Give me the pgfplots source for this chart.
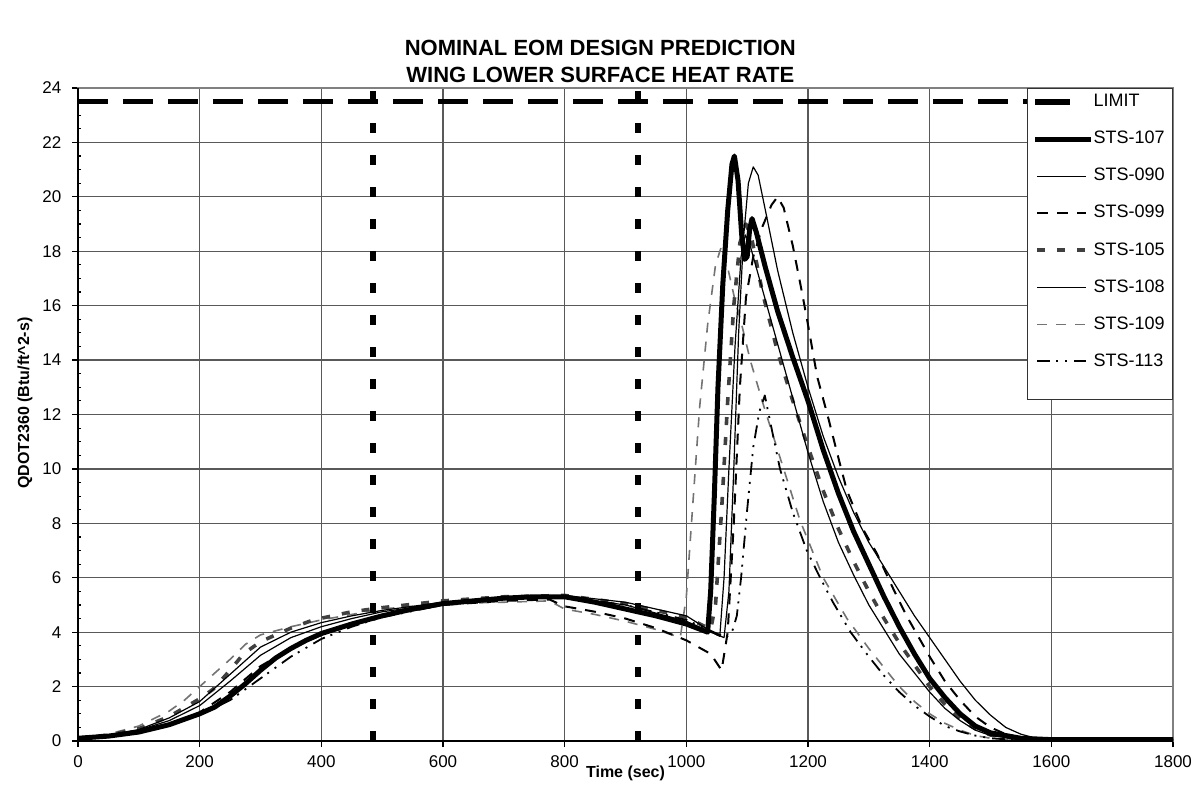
\documentclass[border=0pt]{standalone}
\usepackage{fontspec}
\setmainfont{Liberation Sans}
\usepackage{pgfplots}
\pgfplotsset{compat=1.18}
\usetikzlibrary{calc}
\definecolor{g105}{RGB}{64,64,64}
\definecolor{g109}{RGB}{115,115,115}
\begin{document}
\begin{tikzpicture}
\begin{axis}[
  name=ax,
  scale only axis, width=547.5bp, height=326.5bp,
  xmin=0, xmax=1800, ymin=0, ymax=24,
  xtick={0,200,...,1800}, ytick={0,2,...,24},
  minor y tick num=3,
  grid=major, major grid style={black!65, line width=0.6bp},
  axis line style={black!50, line width=1bp},
  tick align=outside, major tick length=3bp, minor tick length=-1.5bp,
  tick style={black, line width=0.6bp},
  xtick pos=bottom, ytick pos=left,
  /pgf/number format/1000 sep={},
  /pgf/number format/assume math mode=true,
  ticklabel style={font=\fontsize{8.5bp}{10bp}\selectfont},
  yticklabel style={xshift=-1.8bp},
  xticklabel style={yshift=-0.8bp},
  xlabel={Time (sec)},
  ylabel={QDOT2360 (Btu/ft\textasciicircum 2-s)},
  label style={font=\fontsize{8bp}{9.6bp}\selectfont\bfseries},
  xlabel style={at={(axis description cs:0.5,-0.049)}, anchor=center},
  ylabel style={at={(axis description cs:-0.0484,0.5176)}, anchor=center},
  legend cell align=left,
  legend style={at={(rel axis cs:1,1)}, anchor=north east, draw=black!80, fill=white,
    font=\fontsize{9bp}{10bp}\selectfont, row sep=7.75bp, inner xsep=2.5bp, inner ysep=1.5bp,
    nodes={inner sep=1.5bp},
    /tikz/every odd column/.append style={column sep=-1.5bp}},
  legend image code/.code={\path[draw=none,fill=none] (0bp,-0.5bp) rectangle (28bp,0.5bp); \draw[#1] (1bp,0bp) -- (25.5bp,0bp);},
  every axis plot/.append style={line join=round},
]
\addplot[black, line width=2.8bp, dash pattern=on 15bp off 7.5bp,
  legend image code/.code={\path[draw=none,fill=none] (0bp,-0.5bp) rectangle (28bp,0.5bp); \draw[black, solid, line width=2.8bp] (0bp,0bp) -- (17.5bp,0bp);}]
  coordinates {(0,23.5)(1800,23.5)};
\addlegendentry{LIMIT}

% STS-109 gray dashed
\addplot[g109, line width=0.8bp, dash pattern=on 5bp off 4.5bp, forget plot] coordinates {
(0,0.1)(50,0.25)(100,0.55)(150,1.1)(175,1.5)(200,2.0)(225,2.5)(250,3.0)(275,3.55)(300,3.9)(350,4.2)(400,4.45)(450,4.65)(500,4.85)(600,5.05)(700,5.1)(775,5.15)(800,4.85)(850,4.65)(900,4.4)(950,4.1)(990,3.8)(1000,5.3)(1010,8.5)(1022,12.3)(1035,15.3)(1048,17.5)(1058,18.2)(1068,17.4)(1080,16.2)(1090,15.4)(1105,14.0)(1126,12.4)(1150,10.7)(1187,8.1)(1225,6.0)(1264,4.5)(1300,3.4)(1325,2.7)(1350,2.0)(1375,1.45)(1400,1.0)(1425,0.65)(1450,0.4)(1475,0.2)(1500,0.1)(1550,0.03)(1800,0.03)};
% STS-105 thick gray dashed
\addplot[g105, line width=1.8bp, dash pattern=on 4bp off 6bp, forget plot] coordinates {
(0,0.1)(50,0.22)(100,0.45)(150,0.9)(200,1.55)(222,1.9)(250,2.6)(272,3.2)(300,3.65)(350,4.15)(387,4.45)(450,4.75)(500,4.9)(600,5.15)(700,5.3)(800,5.35)(900,5.05)(1000,4.55)(1040,4.1)(1048,5)(1058,8.5)(1068,12.5)(1078,16)(1088,18.3)(1098,19.0)(1108,18.4)(1125,16.5)(1150,14.3)(1175,12.5)(1200,10.8)(1225,9.2)(1250,7.8)(1275,6.6)(1300,5.5)(1325,4.5)(1350,3.6)(1375,2.8)(1400,2.0)(1425,1.35)(1450,0.8)(1475,0.45)(1500,0.22)(1550,0.06)(1600,0.03)(1800,0.03)};
% STS-108 thin
\addplot[black, line width=0.6bp, forget plot] coordinates {
(0,0.1)(50,0.22)(100,0.42)(150,0.85)(200,1.45)(250,2.45)(300,3.45)(350,4.0)(400,4.35)(450,4.6)(500,4.8)(600,5.1)(700,5.25)(800,5.35)(900,5.1)(1000,4.6)(1050,3.9)(1055,3.85)(1062,6)(1070,10)(1080,14.5)(1090,17.8)(1097,18.6)(1105,18.2)(1125,16.6)(1150,14.6)(1175,12.6)(1200,10.6)(1225,8.8)(1250,7.3)(1275,6.1)(1300,5.0)(1325,4.1)(1350,3.2)(1375,2.5)(1400,1.8)(1425,1.2)(1450,0.75)(1475,0.4)(1500,0.2)(1550,0.05)(1600,0.03)(1800,0.03)};
% STS-113 dash-dot
\addplot[black, line width=0.9bp, dash pattern=on 6.5bp off 3bp on 1bp off 3.5bp on 1bp off 3.5bp, forget plot] coordinates {
(0,0.1)(50,0.17)(100,0.33)(150,0.62)(200,0.95)(250,1.5)(300,2.3)(350,3.1)(400,3.75)(450,4.2)(500,4.55)(600,5.0)(700,5.2)(800,5.3)(900,5.0)(1000,4.45)(1050,3.95)(1065,3.8)(1075,4.0)(1083,4.6)(1090,6.0)(1100,8.5)(1110,10.8)(1120,12.1)(1129,12.7)(1140,11.5)(1154,10.0)(1175,8.4)(1198,7.0)(1220,6.0)(1241,5.1)(1270,4.0)(1300,3.1)(1325,2.4)(1350,1.8)(1375,1.3)(1400,0.9)(1425,0.55)(1450,0.35)(1475,0.2)(1500,0.1)(1550,0.03)(1800,0.03)};
% STS-099 dashed
\addplot[black, line width=1bp, dash pattern=on 5.5bp off 4.5bp, forget plot] coordinates {
(0,0.1)(50,0.17)(100,0.3)(150,0.6)(200,1.05)(250,1.8)(300,2.75)(350,3.4)(400,3.9)(450,4.3)(500,4.6)(600,5.0)(700,5.15)(775,5.2)(800,4.95)(850,4.75)(900,4.5)(950,4.15)(1000,3.7)(1040,3.2)(1058,2.6)(1068,4)(1078,8)(1088,13)(1098,16.3)(1110,17.8)(1125,18.9)(1140,19.7)(1150,20.0)(1160,19.6)(1175,18.2)(1190,16.5)(1200,15.3)(1215,13.4)(1233,11.9)(1250,10.4)(1264,9.2)(1290,7.8)(1313,6.9)(1340,5.6)(1362,4.6)(1400,3.1)(1425,2.2)(1450,1.5)(1475,0.9)(1500,0.5)(1525,0.25)(1550,0.1)(1600,0.05)(1800,0.05)};
% STS-090 thin
\addplot[black, line width=0.6bp, forget plot] coordinates {
(0,0.1)(50,0.2)(100,0.4)(150,0.75)(200,1.3)(250,2.2)(300,3.15)(350,3.8)(400,4.2)(450,4.5)(500,4.75)(600,5.05)(700,5.25)(800,5.3)(900,5.0)(1000,4.4)(1040,4.0)(1062,3.8)(1070,5.5)(1078,10)(1086,15)(1094,18.5)(1102,20.5)(1110,21.1)(1118,20.8)(1130,19.5)(1150,17.3)(1175,15.0)(1200,13.0)(1225,11.2)(1250,9.7)(1275,8.4)(1300,7.3)(1325,6.4)(1350,5.5)(1375,4.6)(1400,3.8)(1425,3.0)(1450,2.2)(1475,1.5)(1500,0.95)(1525,0.5)(1550,0.25)(1575,0.1)(1600,0.05)(1800,0.05)};
% STS-107 thick
\addplot[black, line width=2.5bp, forget plot] coordinates {
(0,0.1)(50,0.18)(100,0.33)(150,0.6)(200,1.0)(225,1.25)(250,1.65)(275,2.1)(300,2.6)(325,3.05)(350,3.4)(375,3.7)(400,3.95)(450,4.3)(500,4.6)(550,4.85)(600,5.05)(650,5.15)(700,5.25)(750,5.3)(800,5.3)(850,5.1)(900,4.85)(950,4.6)(1000,4.3)(1035,4.0)(1040,5.5)(1046,9)(1052,13)(1060,16.8)(1068,19.5)(1075,21.2)(1079,21.5)(1085,20.6)(1091,18.6)(1096,17.7)(1100,17.8)(1104,18.8)(1108,19.2)(1115,18.7)(1130,17.4)(1150,15.8)(1175,14.1)(1200,12.5)(1225,10.7)(1250,9.1)(1275,7.7)(1300,6.5)(1325,5.3)(1350,4.2)(1375,3.2)(1400,2.3)(1425,1.6)(1450,1.0)(1475,0.55)(1500,0.3)(1550,0.1)(1600,0.05)(1700,0.05)(1800,0.05)};
% vertical markers
\addplot[black, line width=3bp, dash pattern=on 5bp off 11bp, forget plot] coordinates {(485,0)(485,24)};
\addplot[black, line width=3bp, dash pattern=on 5bp off 11bp, forget plot] coordinates {(920,0)(920,24)};

% legend entries
\addlegendimage{black, line width=2.5bp, legend image code/.code={\path[draw=none,fill=none] (0bp,-0.5bp) rectangle (28bp,0.5bp); \draw[black, solid, line width=2.5bp] (0bp,0bp) -- (28bp,0bp);}}
\addlegendentry{STS-107}
\addlegendimage{black, line width=0.6bp}
\addlegendentry{STS-090}
\addlegendimage{black, line width=1bp, dash pattern=on 5.5bp off 4.5bp}
\addlegendentry{STS-099}
\addlegendimage{g105, line width=1.8bp, dash pattern=on 4bp off 6bp}
\addlegendentry{STS-105}
\addlegendimage{black, line width=0.6bp}
\addlegendentry{STS-108}
\addlegendimage{g109, line width=0.8bp, dash pattern=on 5bp off 4.5bp}
\addlegendentry{STS-109}
\addlegendimage{black, line width=0.9bp, dash pattern=on 6.5bp off 3bp on 1bp off 3.5bp on 1bp off 3.5bp}
\addlegendentry{STS-113}
\addlegendimage{empty legend}
\addlegendentry{}
\end{axis}
\draw[black, line width=1.2bp] (ax.north west) -- (ax.south west) -- (ax.south east);
\node[font=\fontsize{11bp}{13bp}\selectfont\bfseries] at ($(ax.north west)!0.477!(ax.north east) + (0,20bp)$) {NOMINAL EOM DESIGN PREDICTION};
\node[font=\fontsize{11bp}{13bp}\selectfont\bfseries] at ($(ax.north west)!0.477!(ax.north east) + (0,6.5bp)$) {WING LOWER SURFACE HEAT RATE};
\pgfresetboundingbox
\path[use as bounding box] ($(ax.south west)+(-39bp,-35.5bp)$) rectangle ($(ax.north east)+(14bp,44bp)$);
\end{tikzpicture}
\end{document}
